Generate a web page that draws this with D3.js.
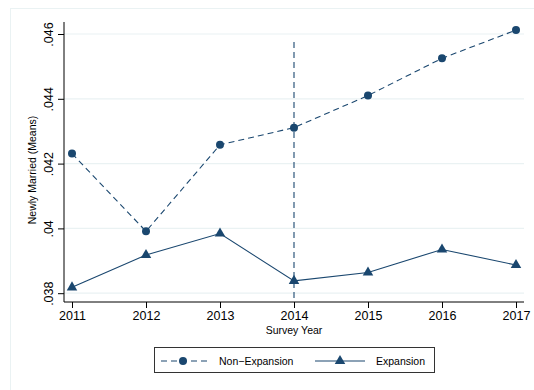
<!DOCTYPE html>
<html><head><meta charset="utf-8">
<script src="https://cdn.jsdelivr.net/npm/d3@7"></script>
<style>body{margin:0;background:#fff}svg{display:block;font-family:"Liberation Sans",Arial,sans-serif}</style>
</head><body><svg id="c" width="534" height="390"></svg>
<script>
const years = [2011, 2012, 2013, 2014, 2015, 2016, 2017];
const nonExpansion = [0.04231, 0.03991, 0.04258, 0.04311, 0.04410, 0.04525, 0.04612];
const expansion = [0.03818, 0.03918, 0.03984, 0.03838, 0.03864, 0.03935, 0.03887];
const yTicks = [0.038, 0.040, 0.042, 0.044, 0.046];
const yTickLabels = [".038", ".04", ".042", ".044", ".046"];
const policyYear = 2014;

(function(){
const svg = d3.select("#c");
const col = "#1a476f";
const grid = "#eaf2f3";

svg.append("rect").attr("x",10.5).attr("y",8.5).attr("width",540).attr("height",400)
  .attr("fill","#fff").attr("stroke",grid).attr("stroke-width",1);

const x = d3.scaleLinear().domain([2011,2017]).range([72,516]);
const y = d3.scaleLinear().domain([0.038,0.046]).range([293.2,34]);
const pL = 64, pR = 524, pT = 22, pB = 302;

svg.append("g").selectAll("line").data(yTicks).join("line")
  .attr("x1",pL).attr("x2",pR).attr("y1",d=>y(d)).attr("y2",d=>y(d))
  .attr("stroke",grid).attr("stroke-width",1.2);

const yAx = svg.append("g").attr("transform",`translate(${pL},0)`)
  .call(d3.axisLeft(y).tickValues(yTicks).tickFormat((d,i)=>yTickLabels[i]).tickSize(6).tickSizeOuter(0));
yAx.select(".domain").remove();
yAx.append("line").attr("x1",0).attr("x2",0).attr("y1",pT).attr("y2",pB).attr("stroke","#000");
yAx.selectAll(".tick line").attr("stroke","#000");
yAx.selectAll(".tick text").attr("font-size",12.5).attr("fill","#000")
  .attr("transform","rotate(-90)").attr("x",0).attr("y",-11).attr("dy","0").attr("text-anchor","middle")
  .attr("font-family","Liberation Sans, Arial, sans-serif");

const xAx = svg.append("g").attr("transform",`translate(0,${pB})`)
  .call(d3.axisBottom(x).tickValues(years).tickFormat(d3.format("d")).tickSize(6).tickSizeOuter(0));
xAx.select(".domain").remove();
xAx.append("line").attr("x1",pL).attr("x2",pR).attr("y1",0).attr("y2",0).attr("stroke","#000");
xAx.selectAll(".tick line").attr("stroke","#000");
xAx.selectAll(".tick text").attr("font-size",12.5).attr("fill","#000").attr("y",9)
  .attr("font-family","Liberation Sans, Arial, sans-serif");

svg.append("text").attr("transform",`translate(36,${(pT+pB)/2+8}) rotate(-90)`)
  .attr("text-anchor","middle").attr("font-size",10.5).text("Newly Married (Means)");
svg.append("text").attr("x",294).attr("y",334).attr("text-anchor","middle")
  .attr("font-size",10.5).text("Survey Year");

svg.append("line").attr("x1",x(policyYear)).attr("x2",x(policyYear)).attr("y1",42).attr("y2",pB)
  .attr("stroke",col).attr("stroke-width",1.1).attr("stroke-dasharray","6,4");

const line = d3.line().x((d,i)=>x(years[i])).y(d=>y(d));
svg.append("path").datum(nonExpansion).attr("d",line).attr("fill","none")
  .attr("stroke",col).attr("stroke-width",1.1).attr("stroke-dasharray","6,4");
svg.append("path").datum(expansion).attr("d",line).attr("fill","none")
  .attr("stroke",col).attr("stroke-width",1.1);

svg.append("g").selectAll("circle").data(nonExpansion).join("circle")
  .attr("cx",(d,i)=>x(years[i])).attr("cy",d=>y(d)).attr("r",4).attr("fill",col);
const tri = d3.symbol().type(d3.symbolTriangle).size(48);
svg.append("g").selectAll("path").data(expansion).join("path")
  .attr("d",tri).attr("transform",(d,i)=>`translate(${x(years[i])},${y(d)})`).attr("fill",col);

const lg = svg.append("g");
lg.append("rect").attr("x",154.5).attr("y",347.5).attr("width",280).attr("height",25)
  .attr("fill","#fff").attr("stroke","#333").attr("stroke-width",1);
const ly = 361;
lg.append("line").attr("x1",160).attr("x2",210).attr("y1",ly).attr("y2",ly)
  .attr("stroke",col).attr("stroke-width",1.1).attr("stroke-dasharray","6,4").attr("stroke-dashoffset",-1);
lg.append("circle").attr("cx",183).attr("cy",ly).attr("r",4).attr("fill",col);
lg.append("text").attr("x",219).attr("y",ly+4).attr("font-size",10.5).text("Non\u2212Expansion");
lg.append("line").attr("x1",315).attr("x2",365).attr("y1",ly).attr("y2",ly)
  .attr("stroke",col).attr("stroke-width",1.1);
lg.append("path").attr("d",tri).attr("transform",`translate(340,${ly})`).attr("fill",col);
lg.append("text").attr("x",376).attr("y",ly+4).attr("font-size",10.5).text("Expansion");
})();
</script></body></html>
